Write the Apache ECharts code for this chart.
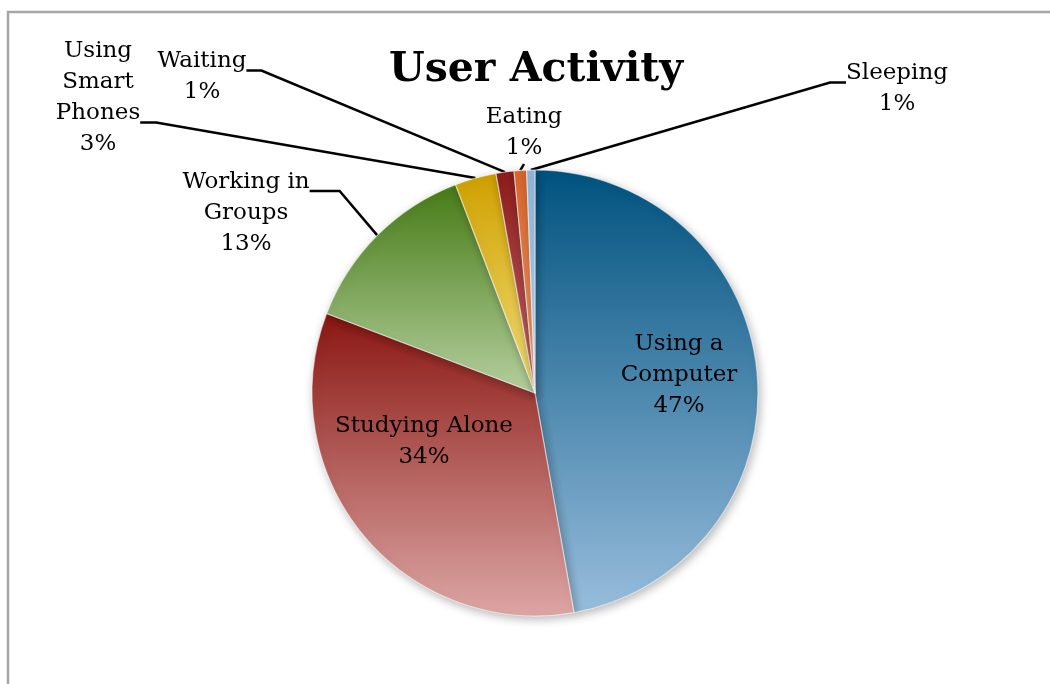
<!DOCTYPE html>
<html>
<head>
<meta charset="utf-8">
<script src="https://cdn.jsdelivr.net/npm/echarts@6/dist/echarts.min.js"></script>
<style>
  html, body { margin: 0; padding: 0; background: #ffffff; }
  #chart { width: 1050px; height: 684px; }
</style>
</head>
<body>
<div id="chart"></div>
<script>
// ---- data ----
var categories = ['Using a Computer', 'Studying Alone', 'Working in Groups', 'Using Smart Phones', 'Waiting', 'Eating', 'Sleeping'];
var labelNames = ['Using a\nComputer', 'Studying Alone', 'Working in\nGroups', 'Using\nSmart\nPhones', 'Waiting', 'Eating', 'Sleeping'];
var values = [47.2, 33.6, 13.4, 3.0, 1.3, 0.9, 0.6];
var titleText = 'User Activity';

// ---- styling / layout (not data) ----
var FONT = '"DejaVu Serif", "Liberation Serif", serif';
var LH = 31;
var gradTop = ['#00527f', '#8a1612', '#467b16', '#cfa000', '#8e1b1b', '#d9662a', '#8fb6da'];
var gradBot = ['#98bddc', '#dca6a4', '#b5cf9e', '#f3e07a', '#c46a6a', '#f0a070', '#b8d2ea'];
// label centre positions (text block) and guide-line tweaks
var labelPos = [
  { cx: 679, cy: 375, lines: 3, inside: true },
  { cx: 424, cy: 442, lines: 2, inside: true },
  { cx: 246, cy: 213, lines: 3, pad: [44, 0], len2: 30 },
  { cx: 98,  cy: 98,  lines: 4, pad: [0, 49], len2: 16 },
  { cx: 202, cy: 77,  lines: 2, pad: [13, 0], len2: 15 },
  { cx: 524, cy: 133, lines: 2, pad: [0, 0],  len2: 0 },
  { cx: 897, cy: 89,  lines: 2, pad: [13, 0], len2: 16 }
];

var seriesData = categories.map(function (c, i) {
  var lp = labelPos[i];
  var item = {
    name: c,
    value: values[i],
    itemStyle: {
      color: {
        type: 'linear', x: 0, y: 0, x2: 0, y2: 1,
        colorStops: [{ offset: 0, color: gradTop[i] }, { offset: 1, color: gradBot[i] }]
      }
    }
  };
  if (lp.inside) {
    item.label = { position: 'inside' };
    item.labelLine = { show: false };
  } else {
    item.label = { position: 'outside', padding: [lp.pad[0], 0, lp.pad[1], 0], backgroundColor: 'rgba(0,0,0,0)' };
    item.labelLine = { show: true, length: 10, length2: lp.len2 };
  }
  return item;
});

var chart = echarts.init(document.getElementById('chart'), null, { renderer: 'canvas' });
chart.setOption({
  backgroundColor: '#ffffff',
  animation: false,
  title: {
    text: titleText,
    left: 531, top: 45,
    textAlign: 'center',
    textStyle: { fontFamily: FONT, fontWeight: 'bold', fontSize: 41, color: '#000000' }
  },
  graphic: [{
    type: 'rect',
    shape: { x: 8, y: 12, width: 1200, height: 900 },
    style: { fill: 'none', stroke: '#a6a6a6', lineWidth: 2.5 },
    z: -1, silent: true
  }],
  series: [{
    type: 'pie',
    center: [535, 393],
    radius: 223,
    startAngle: 90,
    clockwise: true,
    avoidLabelOverlap: false,
    data: seriesData,
    itemStyle: {
      borderColor: 'rgba(255,255,255,0.55)',
      borderWidth: 1.2,
      shadowBlur: 10,
      shadowColor: 'rgba(0,0,0,0.28)',
      shadowOffsetX: 2,
      shadowOffsetY: 3
    },
    label: {
      show: true,
      fontFamily: FONT,
      fontSize: 23,
      lineHeight: LH,
      color: '#000000',
      align: 'center',
      formatter: function (p) {
        return labelNames[p.dataIndex] + '\n' + Math.round(p.value) + '%';
      }
    },
    labelLine: {
      lineStyle: { color: '#000000', width: 2.5 },
      minTurnAngle: 30
    },
    labelLayout: function (params) {
      var lp = labelPos[params.dataIndex];
      var h = lp.lines * LH;
      var top = lp.cy - h / 2;
      var padTop = lp.pad ? lp.pad[0] : 0;
      return {
        x: lp.cx,
        y: top - padTop,
        align: 'center',
        verticalAlign: 'top'
      };
    },
    emphasis: { disabled: true }
  }]
});
</script>
</body>
</html>
